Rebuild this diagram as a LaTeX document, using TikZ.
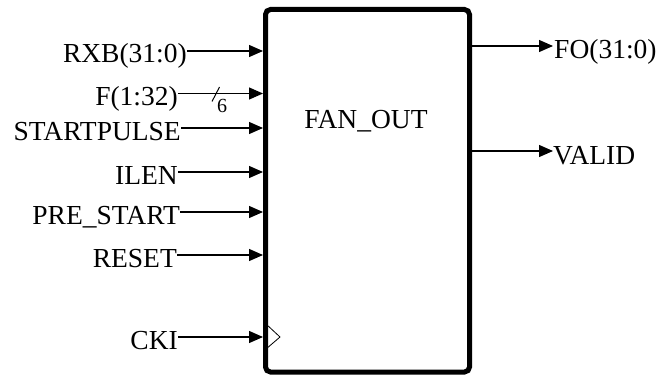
\documentclass[tikz,border=0pt]{standalone}
\usepackage{fontspec}
\setmainfont{Liberation Serif}
\usetikzlibrary{arrows.meta}
\begin{document}
\begin{tikzpicture}[x=1pt,y=-1pt,
	pin/.style={line width=1.3pt,-{Triangle[length=14pt,width=12pt]}},
	sig/.style={inner sep=0pt,font=\fontsize{27.5}{32}\selectfont}]
	\useasboundingbox (0,0) rectangle (660,377) ;
	\node[draw,line width=5pt,rounded corners=5pt,inner sep=0pt,minimum width=204pt,minimum height=362.5pt] (fan) at (367.5,190.75) {} ;
	\node[sig,anchor=base] (title) at (366,128) {FAN\_OUT} ;
	\coordinate (rxb) at (fan.west |- 0,51) ;
	\coordinate (f) at (fan.west |- 0,93.5) ;
	\coordinate (sp) at (fan.west |- 0,128) ;
	\coordinate (ilen) at (fan.west |- 0,172) ;
	\coordinate (pre) at (fan.west |- 0,212) ;
	\coordinate (rst) at (fan.west |- 0,255) ;
	\coordinate (cki) at (fan.west |- 0,337) ;
	\coordinate (fo) at (553,46) ;
	\coordinate (valid) at (553,151) ;
	\node[sig,anchor=base east] (lrxb) at (187,63) {RXB(31:0)} ;
	\node[sig,anchor=base east] (lf) at (178,105.5) {F(1:32)} ;
	\node[sig,anchor=base east] (lsp) at (181,140) {STARTPULSE} ;
	\node[sig,anchor=base east] (lilen) at (178,184) {ILEN} ;
	\node[sig,anchor=base east] (lpre) at (180,224) {PRE\_START} ;
	\node[sig,anchor=base east] (lrst) at (177,267) {RESET} ;
	\node[sig,anchor=base east] (lcki) at (178,349) {CKI} ;
	\node[sig,anchor=base west] (lfo) at (554,59) {FO(31:0)} ;
	\node[sig,anchor=base west] (lvalid) at (553,164) {VALID} ;
	\draw[pin] (lrxb.east |- rxb) -- (rxb) ;
	\draw[pin] (lf.east |- f) -- (f) ;
	\draw[pin] (lsp.east |- sp) -- (sp) ;
	\draw[pin] (lilen.east |- ilen) -- (ilen) ;
	\draw[pin] (lpre.east |- pre) -- (pre) ;
	\draw[pin] (lrst.east |- rst) -- (rst) ;
	\draw[pin] (lcki.east |- cki) -- (cki) ;
	\draw[pin] (fan.east |- fo) -- (fo) ;
	\draw[pin] (fan.east |- valid) -- (valid) ;
	\draw[line width=1pt] (212,101.5) -- (219.5,87) ;
	\node[inner sep=0pt,anchor=base west,font=\fontsize{20}{24}\selectfont] (width) at (217,113) {6} ;
	\draw[line width=0.8pt,line join=bevel] (266,324) -- (280,337) -- (266,349) ;
\end{tikzpicture}
\end{document}
